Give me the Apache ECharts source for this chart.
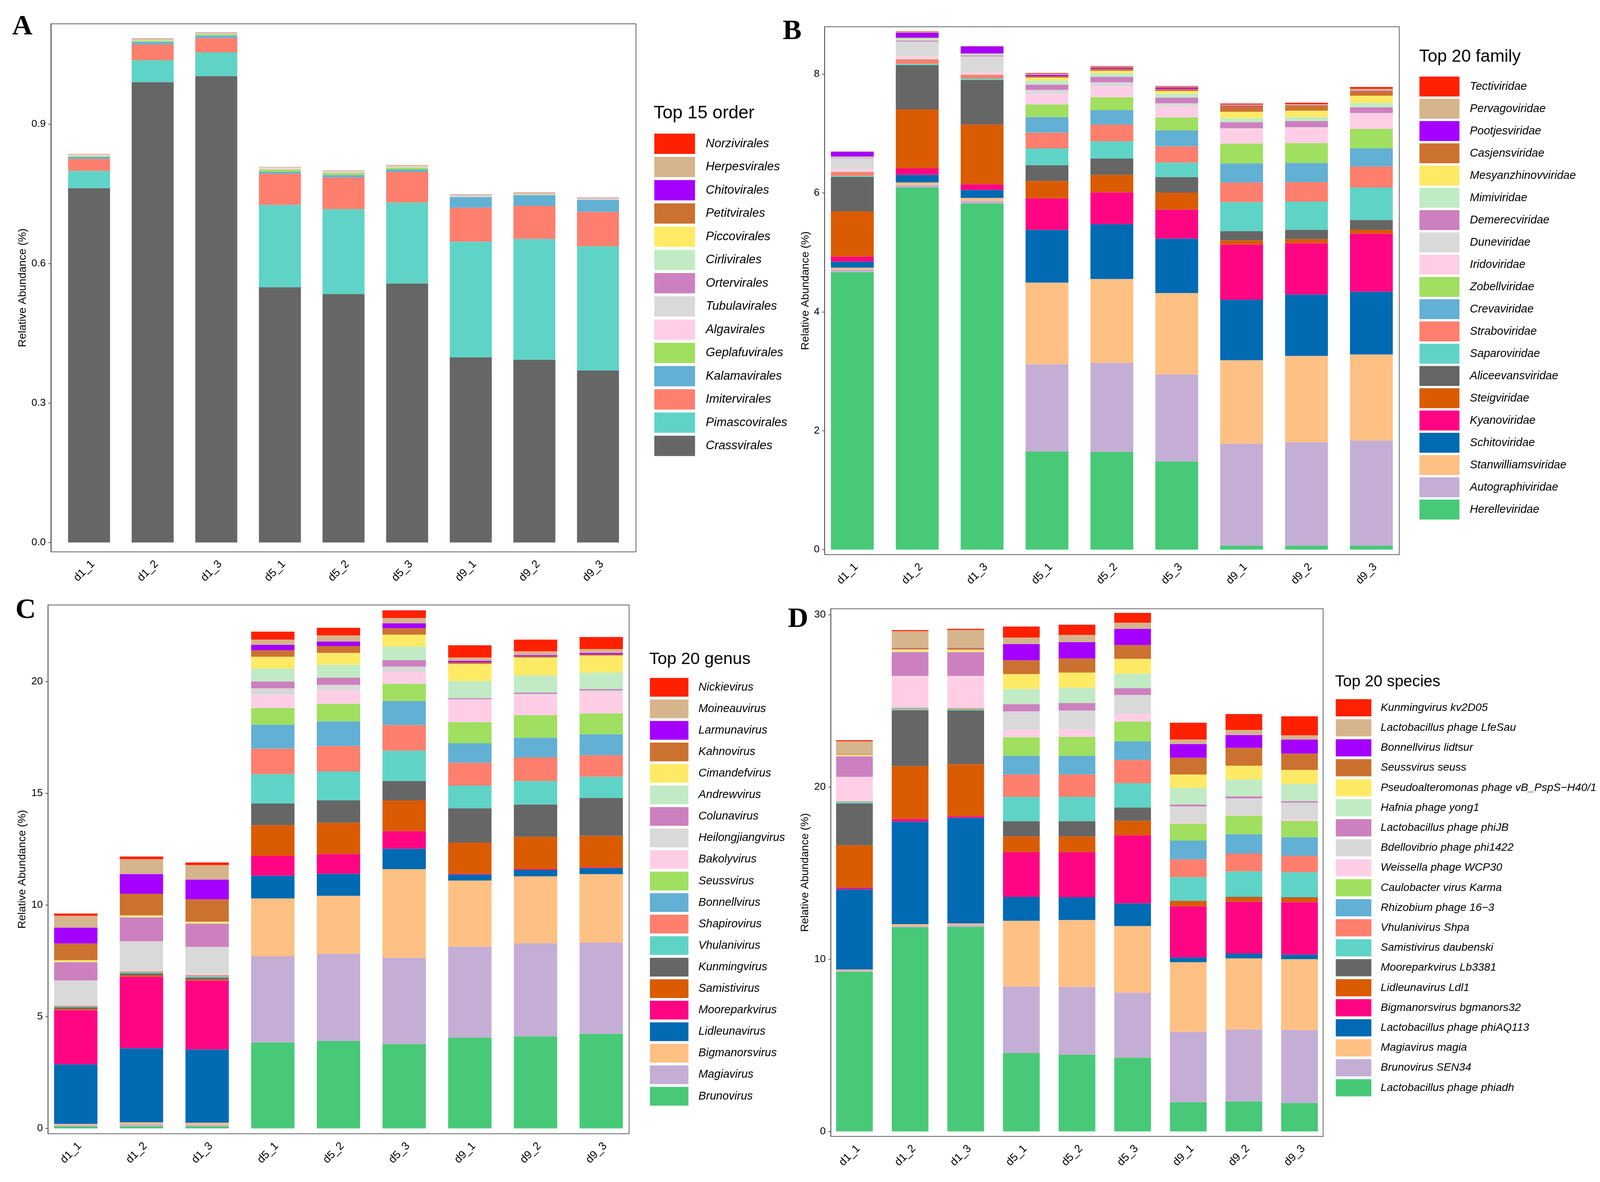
<!DOCTYPE html>
<html>
<head>
<meta charset="utf-8">
<title>Relative abundance of viral taxa</title>
<script src="https://cdn.jsdelivr.net/npm/echarts@6.0.0/dist/echarts.min.js"></script>
<style>html,body{margin:0;padding:0;background:#fff;overflow:hidden;}</style>
</head>
<body>
<div id="main" style="width:100vw;height:100vh;"></div>
<script type="text/javascript">
var samples = ['d1_1', 'd1_2', 'd1_3', 'd5_1', 'd5_2', 'd5_3', 'd9_1', 'd9_2', 'd9_3'];

// colours, top of the stack first (same order in all four panels)
var palette = ['#FF2000', '#D6B48C', '#A500FF', '#CC7230', '#FFEA66',
    '#C1EBC4', '#CD80BF', '#D9D9D9', '#FFCEE6', '#A0DF5F',
    '#62B0D4', '#FF7F6E', '#5FD4C6', '#666666', '#DA5B02',
    '#FF0583', '#006AB3', '#FFC084', '#C4AED5', '#48C977'];

// A - order, bottom of the stack first
var orderNames = ['Crassvirales', 'Pimascovirales', 'Imitervirales', 'Kalamavirales', 'Geplafuvirales',
    'Algavirales', 'Tubulavirales', 'Ortervirales', 'Cirlivirales', 'Piccovirales',
    'Petitvirales', 'Chitovirales', 'Herpesvirales', 'Norzivirales'];
var orderValues = [
    [0.762, 0.990, 1.003, 0.549, 0.534, 0.557, 0.398, 0.393, 0.370],
    [0.037, 0.047, 0.051, 0.177, 0.183, 0.174, 0.249, 0.260, 0.267],
    [0.026, 0.034, 0.031, 0.067, 0.068, 0.066, 0.073, 0.071, 0.074],
    [0.004, 0.005, 0.005, 0.004, 0.005, 0.005, 0.023, 0.023, 0.026],
    [0.002, 0.003, 0.003, 0.005, 0.005, 0.004, 0.0005, 0.0005, 0.0005],
    [0.001, 0.0005, 0.0005, 0.002, 0.002, 0.001, 0.001, 0.0005, 0.0015],
    [0.0005, 0.0005, 0.0005, 0.0005, 0.0005, 0.0005, 0.0005, 0.0005, 0.0005],
    [0.0003, 0.0003, 0.0003, 0.0005, 0.0005, 0.0003, 0.0003, 0.0003, 0.0008],
    [0.001, 0.0015, 0.001, 0.001, 0.001, 0.001, 0.0015, 0.001, 0.0005],
    [0.0003, 0.0005, 0.0003, 0.0003, 0.0003, 0.0005, 0.0003, 0.0005, 0.0003],
    [0.0002, 0.0002, 0.0002, 0.0002, 0.0002, 0.0002, 0.0002, 0.0002, 0.0002],
    [0.0002, 0.0002, 0.0002, 0.0002, 0.0002, 0.0002, 0.0002, 0.0002, 0.0002],
    [0.001, 0.0015, 0.001, 0.0005, 0.0005, 0.0015, 0.001, 0.002, 0.0005],
    [0.0002, 0.0002, 0.0002, 0.0002, 0.0002, 0.0002, 0.0002, 0.0002, 0.0002]
];

// B - family
var familyNames = ['Herelleviridae', 'Autographiviridae', 'Stanwilliamsviridae', 'Schitoviridae', 'Kyanoviridae',
    'Steigviridae', 'Aliceevansviridae', 'Saparoviridae', 'Straboviridae', 'Crevaviridae',
    'Zobellviridae', 'Iridoviridae', 'Duneviridae', 'Demerecviridae', 'Mimiviridae',
    'Mesyanzhinovviridae', 'Casjensviridae', 'Pootjesviridae', 'Pervagoviridae', 'Tectiviridae'];
var familyValues = [
    [4.669, 6.091, 5.824, 1.653, 1.647, 1.483, 0.067, 0.067, 0.067],
    [0.043, 0.043, 0.043, 1.465, 1.495, 1.465, 1.714, 1.739, 1.769],
    [0.030, 0.043, 0.049, 1.374, 1.410, 1.368, 1.404, 1.453, 1.447],
    [0.103, 0.128, 0.134, 0.888, 0.924, 0.918, 1.021, 1.033, 1.058],
    [0.085, 0.109, 0.097, 0.529, 0.535, 0.486, 0.924, 0.863, 0.973],
    [0.760, 0.991, 1.003, 0.292, 0.292, 0.286, 0.073, 0.067, 0.067],
    [0.578, 0.742, 0.748, 0.267, 0.274, 0.261, 0.152, 0.158, 0.164],
    [0.018, 0.024, 0.024, 0.280, 0.292, 0.243, 0.492, 0.474, 0.547],
    [0.067, 0.073, 0.061, 0.267, 0.280, 0.274, 0.328, 0.328, 0.353],
    [0.005, 0.005, 0.005, 0.261, 0.243, 0.267, 0.322, 0.322, 0.304],
    [0.005, 0.005, 0.005, 0.213, 0.219, 0.219, 0.334, 0.334, 0.328],
    [0.043, 0.049, 0.036, 0.176, 0.182, 0.176, 0.249, 0.261, 0.261],
    [0.176, 0.243, 0.267, 0.067, 0.067, 0.061, 0.006, 0.006, 0.006],
    [0.012, 0.018, 0.018, 0.091, 0.091, 0.097, 0.103, 0.103, 0.097],
    [0.012, 0.035, 0.025, 0.067, 0.061, 0.067, 0.067, 0.067, 0.073],
    [0.003, 0.005, 0.003, 0.049, 0.043, 0.043, 0.109, 0.109, 0.122],
    [0.003, 0.008, 0.005, 0.024, 0.036, 0.036, 0.091, 0.085, 0.073],
    [0.079, 0.085, 0.116, 0.024, 0.018, 0.024, 0.012, 0.006, 0.006],
    [0.005, 0.012, 0.005, 0.018, 0.014, 0.014, 0.018, 0.018, 0.036],
    [0.003, 0.008, 0.003, 0.012, 0.010, 0.010, 0.018, 0.024, 0.030]
];

// C - genus
var genusNames = ['Brunovirus', 'Magiavirus', 'Bigmanorsvirus', 'Lidleunavirus', 'Mooreparkvirus',
    'Samistivirus', 'Kunmingvirus', 'Vhulanivirus', 'Shapirovirus', 'Bonnellvirus',
    'Seussvirus', 'Bakolyvirus', 'Heilongjiangvirus', 'Colunavirus', 'Andrewvirus',
    'Cimandefvirus', 'Kahnovirus', 'Larmunavirus', 'Moineauvirus', 'Nickievirus'];
var genusValues = [
    [0.085, 0.085, 0.085, 3.844, 3.912, 3.776, 4.065, 4.116, 4.235],
    [0.050, 0.085, 0.068, 3.861, 3.895, 3.861, 4.065, 4.167, 4.082],
    [0.068, 0.102, 0.102, 2.585, 2.602, 3.963, 2.959, 2.993, 3.061],
    [2.670, 3.316, 3.280, 1.020, 0.986, 0.918, 0.272, 0.289, 0.272],
    [2.415, 3.197, 3.078, 0.884, 0.884, 0.782, 0.034, 0.034, 0.034],
    [0.050, 0.068, 0.050, 1.378, 1.395, 1.378, 1.395, 1.446, 1.412],
    [0.085, 0.085, 0.085, 0.969, 1.003, 0.867, 1.531, 1.446, 1.684],
    [0.034, 0.050, 0.050, 1.310, 1.293, 1.361, 1.020, 1.054, 0.952],
    [0.034, 0.034, 0.050, 1.139, 1.139, 1.139, 1.020, 1.054, 0.969],
    [0.010, 0.010, 0.010, 1.071, 1.105, 1.071, 0.867, 0.884, 0.935],
    [0.010, 0.010, 0.010, 0.748, 0.782, 0.782, 0.952, 1.003, 0.935],
    [0.020, 0.020, 0.034, 0.595, 0.595, 0.527, 0.986, 0.901, 0.935],
    [1.088, 1.310, 1.220, 0.289, 0.255, 0.238, 0.034, 0.051, 0.085],
    [0.816, 1.070, 1.040, 0.306, 0.323, 0.289, 0.051, 0.068, 0.068],
    [0.020, 0.020, 0.020, 0.578, 0.578, 0.612, 0.765, 0.765, 0.731],
    [0.068, 0.068, 0.068, 0.527, 0.527, 0.527, 0.765, 0.799, 0.765],
    [0.748, 0.970, 1.000, 0.289, 0.306, 0.289, 0.068, 0.051, 0.051],
    [0.714, 0.884, 0.884, 0.238, 0.204, 0.221, 0.068, 0.051, 0.068],
    [0.527, 0.663, 0.646, 0.238, 0.272, 0.238, 0.153, 0.170, 0.170],
    [0.102, 0.119, 0.119, 0.357, 0.340, 0.340, 0.544, 0.527, 0.544]
];

// D - species
var speciesNames = ['Lactobacillus phage phiadh', 'Brunovirus SEN34', 'Magiavirus magia', 'Lactobacillus phage phiAQ113',
    'Bigmanorsvirus bgmanors32', 'Lidleunavirus Ldl1', 'Mooreparkvirus Lb3381', 'Samistivirus daubenski',
    'Vhulanivirus Shpa', 'Rhizobium phage 16\u22123', 'Caulobacter virus Karma', 'Weissella phage WCP30',
    'Bdellovibrio phage phi1422', 'Lactobacillus phage phiJB', 'Hafnia phage yong1',
    'Pseudoalteromonas phage vB_PspS\u2212H40/1', 'Seussvirus seuss', 'Bonnellvirus lidtsur',
    'Lactobacillus phage LfeSau', 'Kunmingvirus kv2D05'];
var speciesValues = [
    [9.270, 11.854, 11.880, 4.547, 4.459, 4.283, 1.700, 1.744, 1.656],
    [0.066, 0.066, 0.110, 3.863, 3.929, 3.775, 4.084, 4.172, 4.238],
    [0.066, 0.110, 0.088, 3.819, 3.885, 3.863, 4.040, 4.128, 4.106],
    [4.658, 5.960, 6.137, 1.391, 1.325, 1.325, 0.287, 0.287, 0.265],
    [0.088, 0.155, 0.088, 2.583, 2.605, 3.951, 2.958, 3.002, 3.046],
    [2.472, 3.068, 3.024, 0.927, 0.927, 0.839, 0.309, 0.265, 0.265],
    [2.428, 3.245, 3.113, 0.883, 0.883, 0.773, 0.020, 0.020, 0.020],
    [0.066, 0.066, 0.066, 1.413, 1.413, 1.413, 1.369, 1.479, 1.457],
    [0.022, 0.044, 0.044, 1.302, 1.302, 1.347, 1.038, 1.038, 0.949],
    [0.020, 0.022, 0.022, 1.082, 1.082, 1.082, 1.082, 1.126, 1.082],
    [0.020, 0.022, 0.022, 1.082, 1.104, 1.148, 0.993, 1.082, 0.949],
    [1.390, 1.810, 1.832, 0.419, 0.419, 0.441, 0.066, 0.044, 0.088],
    [0.022, 0.022, 0.022, 1.082, 1.104, 1.104, 0.927, 0.949, 0.971],
    [1.192, 1.390, 1.390, 0.419, 0.441, 0.397, 0.110, 0.110, 0.088],
    [0.022, 0.044, 0.022, 0.883, 0.883, 0.839, 0.971, 0.993, 0.993],
    [0.066, 0.110, 0.110, 0.861, 0.883, 0.861, 0.773, 0.795, 0.817],
    [0.022, 0.066, 0.088, 0.795, 0.817, 0.795, 0.971, 1.038, 0.949],
    [0.010, 0.022, 0.022, 0.949, 0.949, 0.949, 0.795, 0.751, 0.817],
    [0.750, 0.971, 1.038, 0.375, 0.419, 0.353, 0.265, 0.287, 0.243],
    [0.066, 0.066, 0.066, 0.640, 0.596, 0.574, 0.971, 0.927, 1.104]
];

// tick labels of each panel's y axis
var ticksA = [0, 0.3, 0.6, 0.9];
var ticksB = [0, 2, 4, 6, 8];
var ticksC = [0, 5, 10, 15, 20];
var ticksD = [0, 10, 20, 30];

// layout of the four panels, in pixels of a 4360 x 3026 page (rescaled below)
var panels = [
    { letter: 'A', head: 'Top 15 order', names: orderNames, values: orderValues, ticks: ticksA, digits: 1,
      frame: [138.7, 61, 1594.3, 1351.7], inner: [156, 1560.2], yMin: -0.0202, yMax: 1.1154, nameGap: 62,
      letterAt: [33, 69], headAt: [1781, 290], headSize: 49,
      legendAt: [1783, 342], key: [111, 52], keyGap: 7.5, legendSize: 33, textPad: 24 },
    { letter: 'B', head: 'Top 20 family', names: familyNames, values: familyValues, ticks: ticksB, digits: 0,
      frame: [2247.3, 68.5, 1565.7, 1351.5], inner: [2234.2, 1591.2], yMin: -0.085, yMax: 8.795, nameGap: 37,
      letterAt: [2133, 81], headAt: [3867, 146], headSize: 47,
      legendAt: [3868, 196], key: [109, 51], keyGap: 6, legendSize: 31, textPad: 23 },
    { letter: 'C', head: 'Top 20 genus', names: genusNames, values: genusValues, ticks: ticksC, digits: 0,
      frame: [130.6, 1548.7, 1583.7, 1353.8], inner: [117, 1610.8], yMin: -0.24, yMax: 23.42, nameGap: 55,
      letterAt: [42, 1563], headAt: [1769, 1688], headSize: 46,
      legendAt: [1771, 1735.6], key: [105, 48], keyGap: 7.1, legendSize: 31, textPad: 22 },
    { letter: 'D', head: 'Top 20 species', names: speciesNames, values: speciesValues, ticks: ticksD, digits: 0,
      frame: [2264.1, 1558.4, 1341.4, 1350.8], inner: [2252.6, 1364.4], yMin: -0.29, yMax: 30.35, nameGap: 55,
      letterAt: [2147, 1586], headAt: [3638, 1746], headSize: 43,
      legendAt: [3640, 1790], key: [97, 44], keyGap: 7.2, legendSize: 30, textPad: 20 }
];

var dom = document.getElementById('main');
var sx = dom.clientWidth / 4360, sy = dom.clientHeight / 3026;
var fs = Math.min(sx, sy);
function X(v) { return v * sx; }
function Y(v) { return v * sy; }
function F(v) { return Math.round(v * fs * 10) / 10; }

var sans = '"Liberation Sans", Arial, sans-serif';
var frameColor = '#333333';

var grids = [], xAxes = [], yAxes = [], series = [], legends = [], texts = [];

panels.forEach(function (p, k) {
    var outer = 2 * k, inner = 2 * k + 1;
    // outer grid: the panel frame and the y axis
    grids.push({
        left: X(p.frame[0]), top: Y(p.frame[1]), width: X(p.frame[2]), height: Y(p.frame[3]),
        show: true, borderColor: frameColor, borderWidth: 1.5, backgroundColor: '#fff',
        containLabel: false, outerBoundsMode: 'none'
    });
    // inner grid: the bars, spaced like ggplot's discrete scale
    grids.push({
        left: X(p.inner[0]), top: Y(p.frame[1]), width: X(p.inner[1]), height: Y(p.frame[3]),
        containLabel: false, outerBoundsMode: 'none'
    });
    xAxes.push({ gridIndex: outer, type: 'category', data: samples, show: false });
    xAxes.push({
        gridIndex: inner, type: 'category', data: samples,
        axisLine: { show: false }, axisTick: { show: false },
        axisLabel: {
            interval: 0, rotate: 45, align: 'right', verticalAlign: 'top', margin: Y(17),
            fontSize: F(30), fontFamily: sans, color: '#000'
        }
    });
    yAxes.push({
        gridIndex: outer, type: 'value', min: p.yMin, max: p.yMax,
        axisLine: { show: true, lineStyle: { color: frameColor, width: 1.5 } },
        axisTick: { show: true, length: X(7), customValues: p.ticks, lineStyle: { color: frameColor, width: 1.5 } },
        axisLabel: {
            customValues: p.ticks, margin: X(14), fontSize: F(28), fontFamily: sans, color: '#000',
            formatter: (function (d) { return function (v) { return Number(v).toFixed(d); }; })(p.digits)
        },
        splitLine: { show: false },
        name: 'Relative Abundance (%)', nameLocation: 'middle', nameGap: X(p.nameGap),
        nameTextStyle: { fontSize: F(30), fontFamily: sans, color: '#000' }
    });
    yAxes.push({ gridIndex: inner, type: 'value', min: p.yMin, max: p.yMax, show: false });

    var n = p.names.length;
    p.names.forEach(function (name, i) {
        series.push({
            name: name, type: 'bar', stack: 'panel' + k,
            xAxisIndex: inner, yAxisIndex: inner,
            barWidth: '66%', data: p.values[i],
            itemStyle: { color: palette[n - 1 - i] },
            emphasis: { disabled: true }, silent: true
        });
    });

    legends.push({
        orient: 'vertical', left: X(p.legendAt[0]), top: Y(p.legendAt[1]), padding: 0,
        itemWidth: X(p.key[0]), itemHeight: Y(p.key[1]), itemGap: Y(p.keyGap),
        icon: 'rect', selectedMode: false,
        data: p.names.slice().reverse(),
        textStyle: {
            fontSize: F(p.legendSize), fontStyle: 'italic', fontFamily: sans, color: '#000',
            padding: [0, 0, 0, X(p.textPad)]
        }
    });

    texts.push({
        type: 'text', x: X(p.letterAt[0]), y: Y(p.letterAt[1]),
        style: { text: p.letter, font: 'bold ' + F(77) + 'px "Liberation Serif", "Times New Roman", serif', fill: '#000', align: 'left', verticalAlign: 'middle' }
    });
    texts.push({
        type: 'text', x: X(p.headAt[0]), y: Y(p.headAt[1]),
        style: { text: p.head, font: F(p.headSize) + 'px ' + sans, fill: '#000', align: 'left', verticalAlign: 'middle' }
    });
});

var myChart = echarts.init(dom, null, { renderer: 'canvas' });
myChart.setOption({
    animation: false,
    backgroundColor: '#fff',
    grid: grids,
    xAxis: xAxes,
    yAxis: yAxes,
    legend: legends,
    series: series,
    graphic: texts
});
</script>
</body>
</html>
